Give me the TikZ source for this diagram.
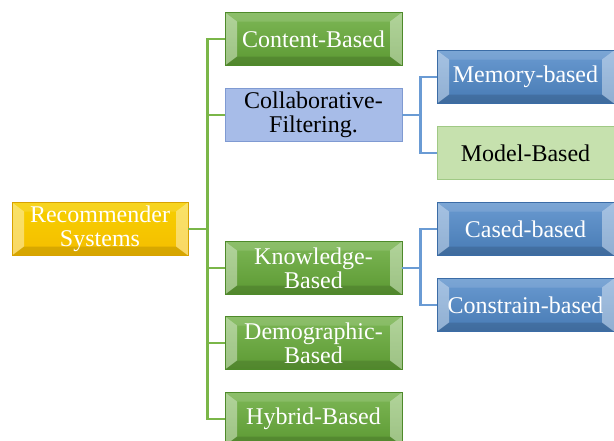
\documentclass[tikz,border=0pt]{standalone}
\usepackage{fontspec}
\setmainfont{Liberation Serif}
\newfontfamily\boxfont{Liberation Serif}
\usetikzlibrary{positioning,calc}
\definecolor{rootGold}{HTML}{F4C400}
\definecolor{rootEdge}{HTML}{D8A200}
\definecolor{leafGreen}{HTML}{66AA38}
\definecolor{leafGreenEdge}{HTML}{4E8A2A}
\definecolor{leafBlue}{HTML}{4F88C8}
\definecolor{leafBlueEdge}{HTML}{3B6CA6}
\definecolor{paleBlue}{HTML}{A7BCE8}
\definecolor{paleBlueEdge}{HTML}{7F9AD2}
\definecolor{paleGreen}{HTML}{C6E1AE}
\definecolor{paleGreenEdge}{HTML}{A0C985}
\definecolor{lineGreen}{HTML}{7AB648}
\definecolor{lineBlue}{HTML}{6A9BD4}

\begin{document}
\begin{tikzpicture}[
    x=1pt, y=-1pt,
    box/.style={draw, line width=0.8pt, minimum width=177pt, minimum height=53pt, inner sep=1pt, align=center, font=\boxfont\fontsize{24}{24}\selectfont},
    bevel/.style={path picture={
        \fill[white,opacity=.4] (path picture bounding box.north west) -- ++(12pt,-9pt) -- ($(path picture bounding box.south west)+(12pt,9pt)$) -- (path picture bounding box.south west) -- cycle;
        \fill[white,opacity=.4] (path picture bounding box.north east) -- ++(-12pt,-9pt) -- ($(path picture bounding box.south east)+(-12pt,9pt)$) -- (path picture bounding box.south east) -- cycle;
        \fill[white,opacity=.12] (path picture bounding box.north west) -- ++(12pt,-9pt) -- ($(path picture bounding box.north east)+(-12pt,-9pt)$) -- (path picture bounding box.north east) -- cycle;
        \fill[black,opacity=.12] (path picture bounding box.south west) -- ++(12pt,9pt) -- ($(path picture bounding box.south east)+(-12pt,9pt)$) -- (path picture bounding box.south east) -- cycle;
      }},
    rootbox/.style={box, bevel, draw=rootEdge, top color=rootGold!80!yellow, bottom color=rootGold!90!orange, text=white},
    greenbox/.style={box, bevel, draw=leafGreenEdge, top color=leafGreen!85!white, bottom color=leafGreen!90!black, text=white},
    bluebox/.style={box, bevel, draw=leafBlueEdge, top color=leafBlue!85!white, bottom color=leafBlue!90!black, text=white},
    palebox/.style={box, fill=#1, draw=#1Edge, text=black},
    greenline/.style={draw=lineGreen, line width=2.2pt},
    blueline/.style={draw=lineBlue, line width=2.2pt}
  ]
  \useasboundingbox (0,0) rectangle (614,440);

  % root
  \node[rootbox, minimum width=176pt] (rec) at (100,229) {Recommender\\Systems};

  % first level
  \node[greenbox] (content) at (313.5,39)  {Content-Based};
  \node[palebox=paleBlue] (collab) at (313.5,115) {Collaborative-\\Filtering.};
  \node[greenbox] (know)    at (313.5,268) {Knowledge-\\Based};
  \node[greenbox] (demo)    at (313.5,343) {Demographic-\\Based};
  \node[greenbox] (hybrid)  at (313.5,419) {Hybrid-Based};

  % second level
  \node[bluebox] (mem)    at (525.5,77)  {Memory-based};
  \node[palebox=paleGreen] (model) at (525.5,153) {Model-Based};
  \node[bluebox] (cased)  at (525.5,229) {Cased-based};
  \node[bluebox] (constr) at (525.5,305) {Constrain-based};

  % connectors
  \foreach \c in {content,collab,know,demo,hybrid}
    \draw[greenline] (rec.east) -- ++(19,0) |- (\c.west);
  \foreach \c in {mem,model}
    \draw[blueline] (collab.east) -- ++(18,0) |- (\c.west);
  \foreach \c in {cased,constr}
    \draw[blueline] (know.east) -- ++(18,0) |- (\c.west);
\end{tikzpicture}
\end{document}
